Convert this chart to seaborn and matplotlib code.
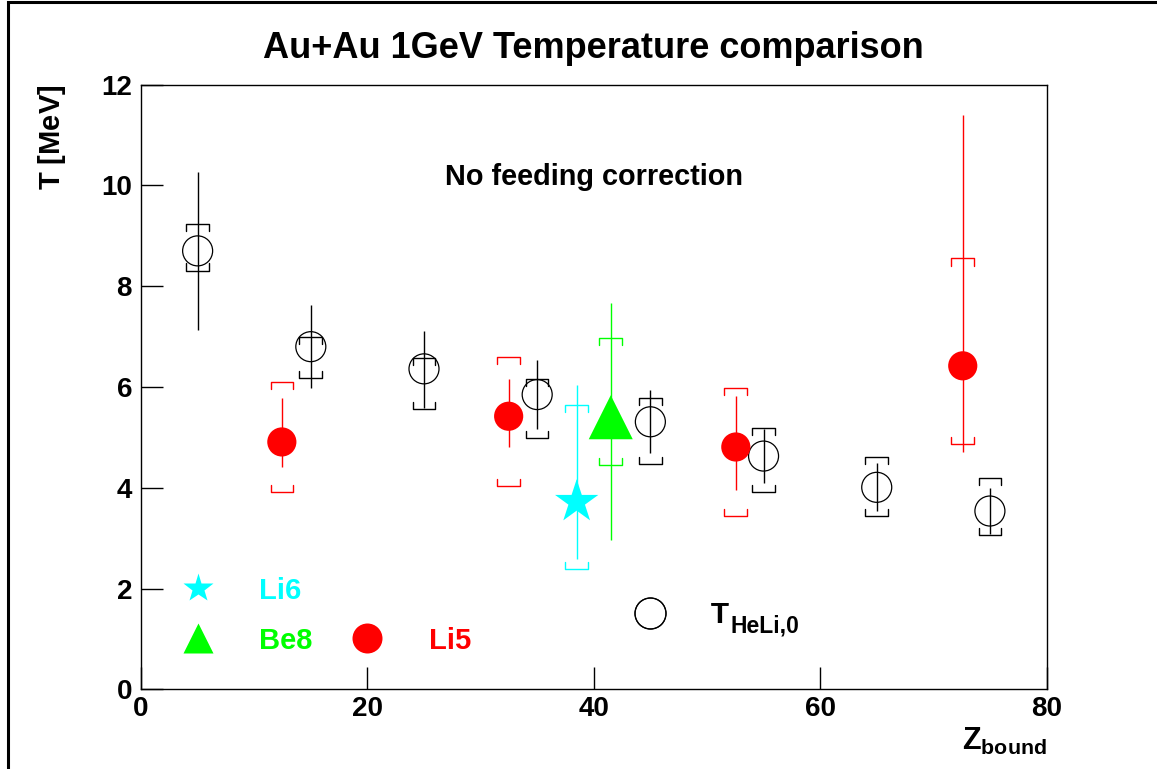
import numpy as np
import pandas as pd
import matplotlib
matplotlib.use('Agg')
import matplotlib.pyplot as plt
import seaborn as sns
from matplotlib.lines import Line2D
from matplotlib.patches import Rectangle

# T_HeLi,0 (open circles)
z_heli = [5, 15, 25, 35, 45, 55, 65, 75]
t_heli = [8.70, 6.80, 6.36, 5.85, 5.31, 4.63, 4.01, 3.54]
heli_stat_lo = [7.14, 5.98, 5.59, 5.17, 4.69, 4.10, 3.54, 3.08]
heli_stat_hi = [10.27, 7.63, 7.11, 6.53, 5.94, 5.16, 4.50, 4.00]
heli_sys_lo = [8.31, 6.18, 5.56, 4.99, 4.48, 3.91, 3.44, 3.06]
heli_sys_hi = [9.23, 7.00, 6.57, 6.16, 5.79, 5.19, 4.61, 4.19]

# Li5 (red filled circles)
z_li5 = [12.44, 32.48, 52.55, 72.6]
t_li5 = [4.91, 5.42, 4.81, 6.42]
li5_stat_lo = [4.41, 4.81, 3.95, 4.71]
li5_stat_hi = [5.79, 6.15, 5.82, 11.39]
li5_sys_lo = [3.92, 4.03, 3.44, 4.87]
li5_sys_hi = [6.10, 6.59, 5.99, 8.55]

# Li6 (cyan star)
z_li6 = [38.49]
t_li6 = [3.72]
li6_stat_lo = [2.58]
li6_stat_hi = [6.03]
li6_sys_lo = [2.38]
li6_sys_hi = [5.65]

# Be8 (green triangle)
z_be8 = [41.5]
t_be8 = [5.40]
be8_stat_lo = [2.96]
be8_stat_hi = [7.67]
be8_sys_lo = [4.45]
be8_sys_hi = [6.98]

x_ticks = [0, 20, 40, 60, 80]
y_ticks = [0, 2, 4, 6, 8, 10, 12]

sns.set_theme(style='ticks')
plt.rcParams['font.family'] = ['Liberation Sans', 'DejaVu Sans']
plt.rcParams['font.weight'] = 'bold'
plt.rcParams['mathtext.fontset'] = 'custom'
plt.rcParams['mathtext.bf'] = 'Liberation Sans:bold'
plt.rcParams['mathtext.rm'] = 'Liberation Sans'
plt.rcParams['mathtext.default'] = 'bf'
for key in ['text.color', 'axes.labelcolor', 'xtick.color', 'ytick.color',
            'xtick.labelcolor', 'ytick.labelcolor', 'axes.edgecolor']:
    plt.rcParams[key] = 'black'

CYAN, GREEN, RED, BLACK = '#00ffff', '#00ff00', '#ff0000', '#000000'


def draw_brackets(ax, x, lo, hi, color, half_w=1.0, tick=0.14):
    """syst. error as ROOT-style brackets"""
    xs, ys = [], []
    for xi, l, h in zip(x, lo, hi):
        xs += [xi - half_w, xi - half_w, xi + half_w, xi + half_w, np.nan]
        ys += [h - tick, h, h, h - tick, np.nan]
        xs += [xi - half_w, xi - half_w, xi + half_w, xi + half_w, np.nan]
        ys += [l + tick, l, l, l + tick, np.nan]
    ax.plot(xs, ys, color=color, lw=1.0, zorder=2)


def draw_stat(ax, x, y, lo, hi, color):
    y = np.asarray(y)
    err = [y - np.asarray(lo), np.asarray(hi) - y]
    ax.errorbar(x, y, yerr=err, fmt='none', ecolor=color, elinewidth=1.0,
                capsize=0, zorder=2)


fig = plt.figure(figsize=(11.57, 7.69), dpi=100)
ax = fig.add_axes([0.1219, 0.1034, 0.7826, 0.7867])

# error bars
draw_stat(ax, z_heli, t_heli, heli_stat_lo, heli_stat_hi, BLACK)
draw_brackets(ax, z_heli, heli_sys_lo, heli_sys_hi, BLACK)
draw_stat(ax, z_li5, t_li5, li5_stat_lo, li5_stat_hi, RED)
draw_brackets(ax, z_li5, li5_sys_lo, li5_sys_hi, RED)
draw_stat(ax, z_li6, t_li6, li6_stat_lo, li6_stat_hi, CYAN)
draw_brackets(ax, z_li6, li6_sys_lo, li6_sys_hi, CYAN)
draw_stat(ax, z_be8, t_be8, be8_stat_lo, be8_stat_hi, GREEN)
draw_brackets(ax, z_be8, be8_sys_lo, be8_sys_hi, GREEN)

# markers
df_heli = pd.DataFrame({'Z': z_heli, 'T': t_heli})
df_li5 = pd.DataFrame({'Z': z_li5, 'T': t_li5})
df_li6 = pd.DataFrame({'Z': z_li6, 'T': t_li6})
df_be8 = pd.DataFrame({'Z': z_be8, 'T': t_be8})

sns.scatterplot(data=df_heli, x='Z', y='T', ax=ax, marker='o', s=21.6 ** 2,
                facecolor='none', edgecolor=BLACK, linewidth=0.9, zorder=3)
sns.scatterplot(data=df_li5, x='Z', y='T', ax=ax, marker='o', s=21 ** 2,
                color=RED, edgecolor='none', zorder=3)
sns.scatterplot(data=df_li6, x='Z', y='T', ax=ax, marker='*', s=32.8 ** 2,
                color=CYAN, edgecolor='none', zorder=3)
sns.scatterplot(data=df_be8, x='Z', y='T', ax=ax, marker='^', s=31.7 ** 2,
                color=GREEN, edgecolor='none', zorder=3)

ax.set_xlim(0, 80)
ax.set_ylim(0, 12)
ax.set_xticks(x_ticks)
ax.set_yticks(y_ticks)
ax.tick_params(axis='both', direction='in', length=15.8, width=1.0,
               labelsize=20, color=BLACK, labelcolor=BLACK)
ax.tick_params(axis='x', pad=5)
ax.tick_params(axis='y', pad=6.5)
for sp in ax.spines.values():
    sp.set_visible(True)
    sp.set_color(BLACK)
    sp.set_linewidth(1.0)

ax.set_title('Au+Au 1GeV Temperature comparison', fontsize=26,
             fontweight='bold', pad=19, color=BLACK)
ax.set_ylabel(r'T $\mathrm{[}$MeV$\mathrm{]}$', fontsize=21, fontweight='bold', loc='top')
ax.yaxis.set_label_coords(-0.0806, 1.0)
ax.set_xlabel(r'$\mathbf{Z}_{\mathbf{bound}}$', fontsize=22, loc='right')
ax.xaxis.set_label_coords(1.0, -0.06)
ax.xaxis.label.set_va('top')

ax.text(40, 10.0, 'No feeding correction', ha='center', va='baseline',
        fontsize=20.8, fontweight='bold')

# legend entries, one small legend per entry
entries = [
    (Line2D([], [], ls='none', marker='*', ms=22, color=CYAN, mec='none'),
     'Li6', CYAN, (5, 1.96), 2.12),
    (Line2D([], [], ls='none', marker='^', ms=21.6, color=GREEN, mec='none'),
     'Be8', GREEN, (5, 0.97), 2.12),
    (Line2D([], [], ls='none', marker='o', ms=21.6, color=RED, mec='none'),
     'Li5', RED, (20, 0.97), 2.10),
    (Line2D([], [], ls='none', marker='o', ms=22.3, mfc='none', mec=BLACK, mew=0.9),
     'T', BLACK, (45, 1.48), 2.08),
]
legs = []
for handle, label, col, anchor, pad in entries:
    leg = ax.legend([handle], [label], loc='center left', bbox_to_anchor=anchor,
                    bbox_transform=ax.transData, frameon=False, fontsize=21,
                    handlelength=0, handletextpad=pad, borderpad=0,
                    borderaxespad=0, labelcolor=col)
    ax.add_artist(leg)
    legs.append(leg)

# subscript of the T_HeLi,0 legend label (drawn after the legend)
ax.annotate('HeLi,0', xy=(1.0, 0.22), xycoords=legs[-1].get_texts()[0],
            xytext=(1, -7), textcoords='offset points', ha='left', va='baseline',
            fontsize=16.5, fontweight='bold', color=BLACK, zorder=6)

# outer canvas frame
fig.add_artist(Rectangle((7.5 / 1157, -1), 2, 2 - 2 / 769, transform=fig.transFigure,
                         fill=False, lw=2.2, ec=BLACK, clip_on=False))

fig.savefig('out.png', dpi=100)
